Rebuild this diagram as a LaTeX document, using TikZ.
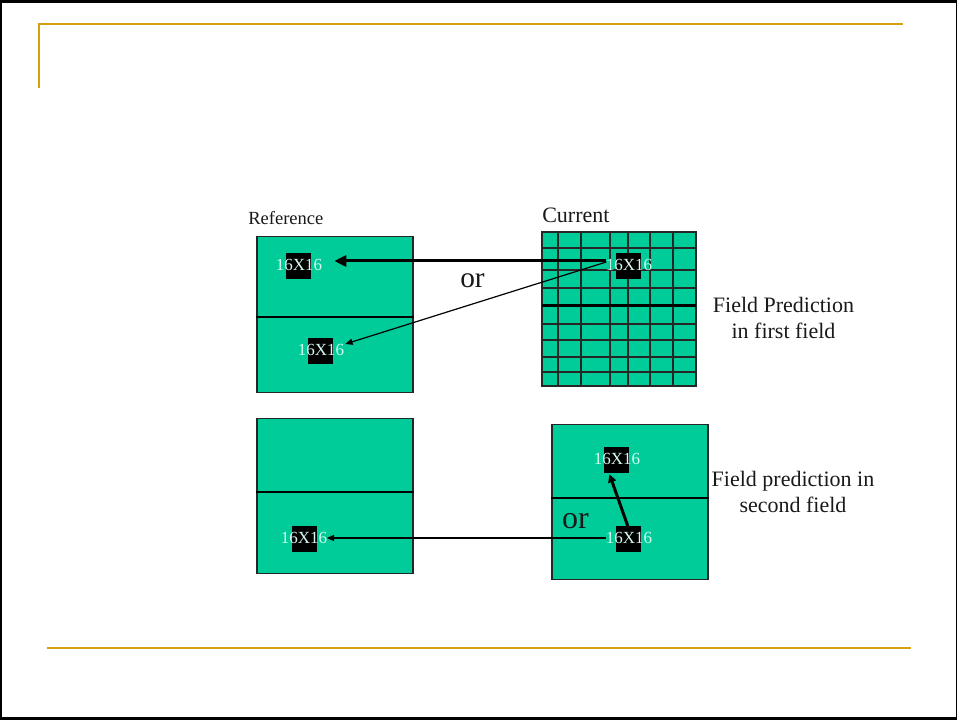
\documentclass[tikz,border=0pt]{standalone}
\usepackage{fontspec}
\setmainfont{Liberation Serif}
\usetikzlibrary{arrows.meta,calc}
\definecolor{grn}{RGB}{0,204,153}
\definecolor{goldline}{RGB}{214,160,20}
\definecolor{blktxt}{RGB}{215,250,240}
\definecolor{lbl}{RGB}{25,25,25}
\begin{document}
\begin{tikzpicture}[x=0.75pt,y=-0.75pt,
  fieldbox/.style={draw=black!85,fill=grn,line width=0.95pt,inner sep=0pt,minimum width=117pt,minimum height=116.5pt},
  midline/.style={line width=2.1pt,black},
  gridline/.style={line width=1.3pt,black!85},
  blkbox/.style={fill=black,inner sep=0pt,minimum width=18.75pt,minimum height=19.5pt},
  blklabel/.style={text=blktxt,inner sep=0pt,font=\fontsize{12.75pt}{15pt}\selectfont},
  thickarr/.style={line width=2.25pt,-{Triangle[length=9pt,width=8.25pt]}},
  thinarr/.style={line width=0.9pt,-{Triangle[length=5.5pt,width=4.5pt]}},
  labeltext/.style={text=lbl,inner sep=0pt},
  goldrule/.style={goldline,line width=1.7pt}
]
\useasboundingbox (0,0) rectangle (957,720);
\fill[black] (0,0) rectangle (957,720);
\fill[white] (2,2.8) rectangle (955.5,717);

% slide rules
\draw[goldrule] (38,24) -- (903,24);
\draw[goldrule] (39,24) -- (39,88);
\draw[goldrule] (47,648) -- (911,648);

% captions
\node[labeltext,anchor=base west,font=\fontsize{13.9pt}{16pt}\selectfont] (reflbl) at (248,225) {Reference};
\node[labeltext,anchor=base west,font=\fontsize{16.5pt}{19pt}\selectfont] (curlbl) at (542,222.7) {Current};

% field boxes
\node[fieldbox] (reftop) at (335,314.5) {};
\draw[midline] ($(reftop.west)+(0,2.5)$) -- ($(reftop.east)+(0,2.5)$);
\node[fieldbox] (refbot) at (335,496) {};
\draw[midline] ($(refbot.west)+(0,-4)$) -- ($(refbot.east)+(0,-4)$);
\node[fieldbox] (curbot) at (630,502) {};
\draw[midline] ($(curbot.west)+(0,-4)$) -- ($(curbot.east)+(0,-4)$);

% current frame grid
\node[fieldbox,minimum width=115.5pt,minimum height=115.5pt] (curtop) at (619,309) {};
\foreach \gx in {558.3,581,610,627.7,650,672.7}
  \draw[gridline] (\gx,231.7) -- (\gx,386);
\foreach \gy in {247.7,270,288.3,324.3,340,356.7,372.3}
  \draw[gridline] (542,\gy) -- (696,\gy);
\draw[midline] (542,305.7) -- (696,305.7);
\draw[line width=0.95pt,black!85] (curtop.north west) rectangle (curtop.south east);

% macroblocks
\node[blkbox] (r1) at (298.5,266) {};
\node[blkbox] (r2) at (320.5,351) {};
\node[blkbox] (c1) at (628,266) {};
\node[blkbox] (b1) at (304,539) {};
\node[blkbox] (b2) at (616.5,459.5) {};
\node[blkbox] (b3) at (628,539) {};
\node[blklabel] (r1t) at ($(r1)+(0.5,-1)$) {16X16};
\node[blklabel] (r2t) at ($(r2)+(0.5,-1)$) {16X16};
\node[blklabel] (c1t) at ($(c1)+(1,-1)$) {16X16};
\node[blklabel] (b1t) at ($(b1)+(0,-1)$) {16X16};
\node[blklabel] (b2t) at ($(b2)+(0.5,-1)$) {16X16};
\node[blklabel] (b3t) at ($(b3)+(1,-1)$) {16X16};

% motion vectors
\draw[thickarr] ($(c1.west)+(-9,-5)$) -- ($(r1.east)+(23,-5)$);
\draw[thinarr] ($(c1.west)+(-9,-4)$) -- ($(r2.east)+(12,-7)$);
\draw[thinarr] ($(b3.west)+(-9,-1)$) -- ($(b1.east)+(10,-1)$);
\draw[thickarr,-{Triangle[length=6pt,width=6pt]}] ($(b3.north)+(0,1)$) -- ($(b2.south)+(-7,1.5)$);

% "or" labels
\node[labeltext,anchor=base,font=\fontsize{22pt}{26pt}\selectfont] (or1) at (472.5,288) {or};
\node[labeltext,anchor=base,font=\fontsize{24pt}{28pt}\selectfont] (or2) at (575.5,528) {or};

% side captions
\node[labeltext,align=center,font=\fontsize{16.5pt}{19.9pt}\selectfont] (cap1) at (783.5,318) {Field Prediction\\in first field};
\node[labeltext,align=center,font=\fontsize{16.5pt}{19.9pt}\selectfont] (cap2) at (793,492) {Field prediction in\\second field};
\end{tikzpicture}
\end{document}
